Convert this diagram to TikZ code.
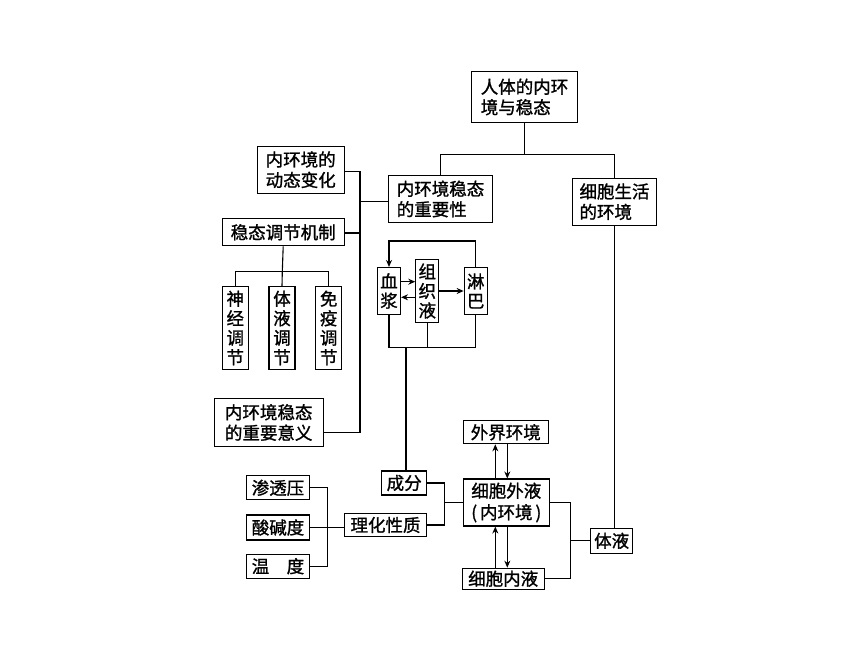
\documentclass[tikz,border=0pt]{standalone}
\usepackage{fontspec}
\newfontfamily\cjk[FakeBold=1.2]{Noto Sans CJK SC}
\usetikzlibrary{arrows.meta,calc}
\begin{document}
\begin{tikzpicture}[x=1pt,y=-1pt,
  box/.style={draw, line width=1.1pt, inner sep=0pt, font=\cjk\fontsize{17.5}{20.5}\selectfont, align=left},
  vbox/.style={box, align=center, font=\cjk\fontsize{17.5}{19.5}\selectfont},
  ln/.style={line width=1.1pt},
  arr/.style={line width=1.1pt, -{Stealth[length=7pt,width=6pt]}}]
\fill[white] (0,0) rectangle (860,645);
\useasboundingbox (0,0) rectangle (860,645);

% boxes
\node[box, minimum width=106pt, minimum height=51pt] (top) at (524.5,97) {人体的内环\\境与稳态};
\node[box, minimum width=87pt, minimum height=47pt] (dyn) at (300.7,169.7) {内环境的\\动态变化};
\node[box, minimum width=104pt, minimum height=47pt] (imp) at (440.5,199) {内环境稳态\\的重要性};
\node[box, minimum width=84pt, minimum height=47pt] (env) at (614.5,201.7) {细胞生活\\的环境};
\node[box, minimum width=122pt, minimum height=27pt] (mech) at (283.2,232.3) {稳态调节机制};
\node[vbox, minimum width=26pt, minimum height=83pt] (neu) at (235.3,328) {神\\经\\调\\节};
\node[vbox, minimum width=26pt, minimum height=83pt] (hum) at (282,328) {体\\液\\调\\节};
\node[vbox, minimum width=26pt, minimum height=83pt] (imm) at (328.7,328) {免\\疫\\调\\节};
\node[box, minimum width=109pt, minimum height=48pt] (sig) at (268.7,422.5) {内环境稳态\\的重要意义};
\node[vbox, minimum width=23pt, minimum height=47pt] (pla) at (389,291) {血\\浆};
\node[vbox, minimum width=23pt, minimum height=63pt] (tis) at (427.3,291) {组\\织\\液};
\node[vbox, minimum width=23pt, minimum height=47pt] (lym) at (475.7,291) {淋\\巴};
\node[box, minimum width=45pt, minimum height=24pt] (comp) at (404.2,483) {成分};
\node[box, minimum width=85pt, minimum height=23pt] (ext) at (505.8,432.3) {外界环境};
\node[box, align=center, minimum width=86pt, minimum height=47pt, font=\cjk\fontsize{17.5}{21.5}\selectfont] (ecf) at (506.3,502.5) {细胞外液\\(\,内环境\,)};
\node[box, minimum width=82pt, minimum height=21pt] (icf) at (503.2,578.7) {细胞内液};
\node[box, minimum width=42pt, minimum height=25pt] (body) at (611.7,540.8) {体液};
\node[box, minimum width=82pt, minimum height=23pt] (phys) at (385.5,525) {理化性质};
\node[box, minimum width=63pt, minimum height=24pt] (osm) at (278,487.8) {渗透压};
\node[box, minimum width=63pt, minimum height=25pt] (ph) at (278,527.5) {酸碱度};
\node[box, minimum width=63pt, minimum height=24pt] (temp) at (278,566.2) {温\hspace{1em}度};

% junction coordinates
\coordinate (j4) at (524.5,154.3);
\coordinate (busT) at (360,171.7);
\coordinate (busI) at (360,201.7);
\coordinate (busM) at (360,233);
\coordinate (busB) at (360,432.7);
\coordinate (mj) at (282.3,271.7);
\coordinate (cb) at (406,347.3);
\coordinate (j1) at (444.3,502.5);
\coordinate (j2) at (327.3,527.5);
\coordinate (j3) at (570.7,540.8);
\coordinate (xa) at (495.3,0);
\coordinate (xb) at (507.3,0);

% top tree
\draw[ln] (top.south) -- (j4);
\draw[ln] (imp.north) |- (j4) -| (env.north);

% left bus
\draw[ln] (dyn.east |- busT) -- (busT) -- (busB) -- (sig.east |- busB);
\draw[ln] (imp.west |- busI) -- (busI);
\draw[ln] (mech.east |- busM) -- (busM);

% mechanism tree
\draw[ln] (mech.south) -- (mj);
\draw[ln] (neu.north) |- (mj) -| (imm.north);
\draw[ln] (hum.north) -- (mj);

% circulation
\draw[arr] (lym.north) |- ($(pla.north)+(0,-26)$) -- (pla.north);
\draw[arr] ($(pla.east)+(0,-9.3)$) -- ($(tis.west)+(0,-9.3)$);
\draw[arr] ($(tis.west)+(0,6.3)$) -- ($(pla.east)+(0,6.3)$);
\draw[arr] (tis.east) -- (lym.west);
\draw[ln] (pla.south) |- (cb) -| (lym.south);
\draw[ln] (tis.south) -- (tis.south |- cb);
\draw[ln] (cb) -- (cb |- comp.north);

% composition / properties
\draw[ln] (comp.east) -| (j1) |- (phys.east);
\draw[ln] (j1) -- (ecf.west);
\draw[ln] (osm.east) -| (j2) |- (temp.east);
\draw[ln] (ph.east) -- (ph.east -| phys.west);

% exchange arrows
\draw[arr] (ecf.north -| xa) -- (ext.south -| xa);
\draw[arr] (ext.south -| xb) -- (ecf.north -| xb);
\draw[arr] (icf.north -| xa) -- (ecf.south -| xa);
\draw[arr] (ecf.south -| xb) -- (icf.north -| xb);

% body fluid
\draw[ln] (ecf.east) -| (j3) |- (icf.east);
\draw[ln] (j3) -- (body.west);
\draw[ln] (body.north -| env.south) -- (env.south);
\end{tikzpicture}
\end{document}
